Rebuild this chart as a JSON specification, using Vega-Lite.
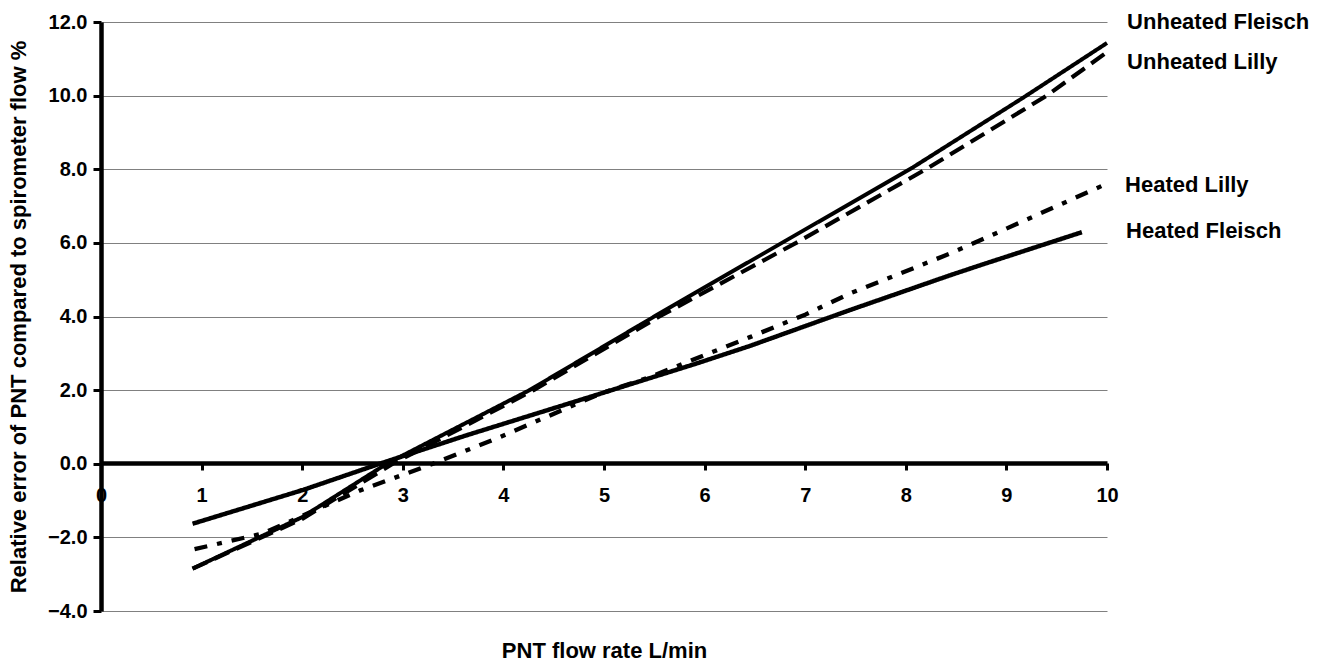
{
  "$schema": "https://vega.github.io/schema/vega-lite/v6.json",
  "autosize": {"type": "none"},
  "padding": {"left": 101, "top": 22, "right": 219, "bottom": 52},
  "width": 1006,
  "height": 589,
  "background": "white",
  "config": {
    "view": {"stroke": null},
    "font": "Liberation Sans"
  },
  "datasets": {
    "lines": [
      {"series": "Unheated Fleisch", "x": 0.91, "y": -2.85},
      {"series": "Unheated Fleisch", "x": 2.0, "y": -1.45},
      {"series": "Unheated Fleisch", "x": 2.84, "y": 0.0},
      {"series": "Unheated Fleisch", "x": 4.26, "y": 2.0},
      {"series": "Unheated Fleisch", "x": 5.5, "y": 4.0},
      {"series": "Unheated Fleisch", "x": 6.8, "y": 6.05},
      {"series": "Unheated Fleisch", "x": 8.07, "y": 8.05},
      {"series": "Unheated Fleisch", "x": 9.17, "y": 9.95},
      {"series": "Unheated Fleisch", "x": 10.0, "y": 11.43},
      {"series": "Unheated Lilly", "x": 0.91, "y": -2.85},
      {"series": "Unheated Lilly", "x": 2.0, "y": -1.5},
      {"series": "Unheated Lilly", "x": 2.9, "y": 0.0},
      {"series": "Unheated Lilly", "x": 4.3, "y": 2.0},
      {"series": "Unheated Lilly", "x": 5.55, "y": 4.0},
      {"series": "Unheated Lilly", "x": 6.91, "y": 6.0},
      {"series": "Unheated Lilly", "x": 8.2, "y": 8.0},
      {"series": "Unheated Lilly", "x": 9.4, "y": 10.0},
      {"series": "Unheated Lilly", "x": 10.0, "y": 11.18},
      {"series": "Heated Lilly", "x": 0.93, "y": -2.32},
      {"series": "Heated Lilly", "x": 1.6, "y": -1.9},
      {"series": "Heated Lilly", "x": 2.57, "y": -0.73},
      {"series": "Heated Lilly", "x": 3.3, "y": 0.0},
      {"series": "Heated Lilly", "x": 3.96, "y": 0.72},
      {"series": "Heated Lilly", "x": 4.96, "y": 1.9},
      {"series": "Heated Lilly", "x": 5.45, "y": 2.35},
      {"series": "Heated Lilly", "x": 6.45, "y": 3.44},
      {"series": "Heated Lilly", "x": 7.0, "y": 4.05},
      {"series": "Heated Lilly", "x": 7.44, "y": 4.62},
      {"series": "Heated Lilly", "x": 8.44, "y": 5.71},
      {"series": "Heated Lilly", "x": 8.74, "y": 6.07},
      {"series": "Heated Lilly", "x": 10.0, "y": 7.61},
      {"series": "Heated Fleisch", "x": 0.91, "y": -1.63},
      {"series": "Heated Fleisch", "x": 2.01, "y": -0.71},
      {"series": "Heated Fleisch", "x": 2.77, "y": 0.0},
      {"series": "Heated Fleisch", "x": 3.63, "y": 0.77},
      {"series": "Heated Fleisch", "x": 4.96, "y": 1.9},
      {"series": "Heated Fleisch", "x": 5.95, "y": 2.75},
      {"series": "Heated Fleisch", "x": 6.45, "y": 3.2},
      {"series": "Heated Fleisch", "x": 7.44, "y": 4.17},
      {"series": "Heated Fleisch", "x": 8.44, "y": 5.12},
      {"series": "Heated Fleisch", "x": 8.77, "y": 5.42},
      {"series": "Heated Fleisch", "x": 9.75, "y": 6.29}
    ],
    "labels": [
      {"label": "Unheated Fleisch", "x": 10.2, "y": 12.0},
      {"label": "Unheated Lilly", "x": 10.2, "y": 10.9},
      {"label": "Heated Lilly", "x": 10.18, "y": 7.56},
      {"label": "Heated Fleisch", "x": 10.19, "y": 6.31}
    ]
  },
  "layer": [
    {
      "data": {"name": "lines"},
      "mark": {"type": "line", "color": "black", "strokeCap": "butt", "strokeJoin": "round"},
      "encoding": {
        "x": {
          "field": "x",
          "type": "quantitative",
          "scale": {"domain": [0, 10], "nice": false, "zero": false},
          "axis": {
            "title": "PNT flow rate L/min",
            "offset": -148,
            "values": [0, 1, 2, 3, 4, 5, 6, 7, 8, 9, 10],
            "format": "d",
            "grid": false,
            "domainColor": "black",
            "domainWidth": 4.5,
            "tickColor": "black",
            "tickWidth": 3,
            "tickSize": 7,
            "labelFont": "Liberation Sans",
            "labelFontSize": 20,
            "labelFontWeight": "bold",
            "labelColor": "black",
            "labelPadding": 15,
            "labelFlush": false,
            "titleFont": "Liberation Sans",
            "titleFontSize": 22,
            "titleFontWeight": "bold",
            "titleColor": "black",
            "titleY": 187,
            "titleBaseline": "middle"
          }
        },
        "y": {
          "field": "y",
          "type": "quantitative",
          "scale": {"domain": [-4, 12], "nice": false, "zero": false},
          "axis": {
            "title": "Relative error of PNT compared to spirometer flow %",
            "values": [-4, -2, 0, 2, 4, 6, 8, 10, 12],
            "format": ".1f",
            "grid": true,
            "gridColor": "#808080",
            "gridWidth": 1,
            "domainColor": "black",
            "domainWidth": 4.5,
            "tickColor": "black",
            "tickWidth": 3,
            "tickSize": 8,
            "labelFont": "Liberation Sans",
            "labelFontSize": 20,
            "labelFontWeight": "bold",
            "labelColor": "black",
            "labelPadding": 6,
            "labelFlush": false,
            "titleFont": "Liberation Sans",
            "titleFontSize": 22,
            "titleFontWeight": "bold",
            "titleColor": "black",
            "titleX": -83,
            "titleBaseline": "middle"
          }
        },
        "detail": {"field": "series", "type": "nominal"},
        "strokeDash": {
          "field": "series",
          "type": "nominal",
          "scale": {
            "domain": ["Unheated Fleisch", "Unheated Lilly", "Heated Lilly", "Heated Fleisch"],
            "range": [[1, 0], [16, 8], [13, 10, 5, 10], [1, 0]]
          },
          "legend": null
        },
        "strokeWidth": {
          "field": "series",
          "type": "ordinal",
          "scale": {
            "domain": ["Unheated Fleisch", "Unheated Lilly", "Heated Lilly", "Heated Fleisch"],
            "range": [4, 4.5, 5, 3.5]
          },
          "legend": null
        }
      }
    },
    {
      "data": {"name": "labels"},
      "mark": {
        "type": "text",
        "align": "left",
        "baseline": "middle",
        "font": "Liberation Sans",
        "fontSize": 22,
        "fontWeight": "bold",
        "color": "black"
      },
      "encoding": {
        "x": {"field": "x", "type": "quantitative"},
        "y": {"field": "y", "type": "quantitative"},
        "text": {"field": "label", "type": "nominal"}
      }
    }
  ]
}
